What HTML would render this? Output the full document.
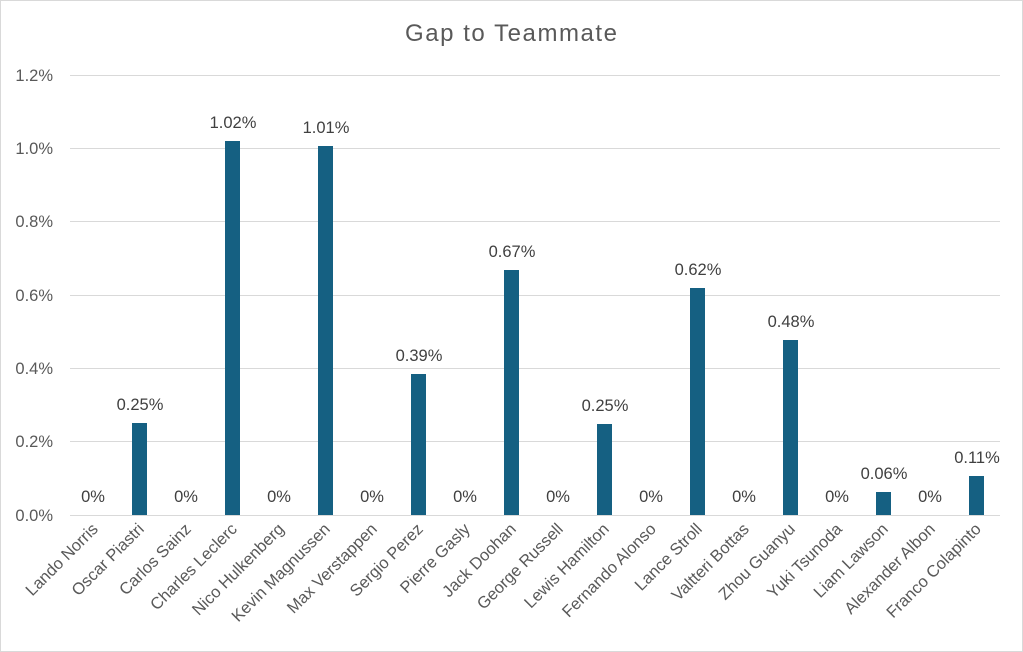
<!DOCTYPE html>
<html><head><meta charset="utf-8"><style>
body{margin:0;background:#fff}
svg{display:block;font-family:"Liberation Sans",Arial,sans-serif}
</style></head><body>
<svg width="1023" height="652" viewBox="0 0 1023 652" xmlns="http://www.w3.org/2000/svg">
<rect x="0.5" y="0.5" width="1022" height="651" fill="#fff" stroke="#d9d9d9"/>
<text x="511" y="41" text-anchor="middle" font-size="24" textLength="212" fill="#595959">Gap to Teammate</text>
<g stroke="#d9d9d9" stroke-width="1">
<line x1="70" x2="1000" y1="75.5" y2="75.5"/>
<line x1="70" x2="1000" y1="148.5" y2="148.5"/>
<line x1="70" x2="1000" y1="221.5" y2="221.5"/>
<line x1="70" x2="1000" y1="295.5" y2="295.5"/>
<line x1="70" x2="1000" y1="368.5" y2="368.5"/>
<line x1="70" x2="1000" y1="441.5" y2="441.5"/>
<line x1="70" x2="1000" y1="515.5" y2="515.5"/>
</g>
<g font-size="16.5" fill="#595959" text-anchor="end">
<text x="53" y="81">1.2%</text><text x="53" y="154">1.0%</text><text x="53" y="227">0.8%</text>
<text x="53" y="301">0.6%</text><text x="53" y="374">0.4%</text><text x="53" y="447">0.2%</text><text x="53" y="521">0.0%</text>
</g>
<g fill="#156082">
<rect x="132" y="423" width="15" height="92"/>
<rect x="225" y="141" width="15" height="374"/>
<rect x="318" y="146" width="15" height="369"/>
<rect x="411" y="374" width="15" height="141"/>
<rect x="504" y="270" width="15" height="245"/>
<rect x="597" y="424" width="15" height="91"/>
<rect x="690" y="288" width="15" height="227"/>
<rect x="783" y="340" width="15" height="175"/>
<rect x="876" y="492" width="15" height="23"/>
<rect x="969" y="476" width="15" height="39"/>
</g>
<g font-size="16.5" fill="#404040" text-anchor="middle">
<text x="93" y="502">0%</text><text x="140" y="410">0.25%</text><text x="186" y="502">0%</text>
<text x="233" y="128">1.02%</text><text x="279" y="502">0%</text><text x="326" y="133">1.01%</text>
<text x="372" y="502">0%</text><text x="419" y="361">0.39%</text><text x="465" y="502">0%</text>
<text x="512" y="257">0.67%</text><text x="558" y="502">0%</text><text x="605" y="411">0.25%</text>
<text x="651" y="502">0%</text><text x="698" y="275">0.62%</text><text x="744" y="502">0%</text>
<text x="791" y="327">0.48%</text><text x="837" y="502">0%</text><text x="884" y="479">0.06%</text>
<text x="930" y="502">0%</text><text x="977" y="463">0.11%</text>
</g>
<g font-size="16.5" fill="#595959" text-anchor="end">
<text transform="translate(99,530) rotate(-45)">Lando Norris</text>
<text transform="translate(145,530) rotate(-45)">Oscar Piastri</text>
<text transform="translate(192,530) rotate(-45)">Carlos Sainz</text>
<text transform="translate(238,530) rotate(-45)">Charles Leclerc</text>
<text transform="translate(285,530) rotate(-45)">Nico Hulkenberg</text>
<text transform="translate(331,530) rotate(-45)">Kevin Magnussen</text>
<text transform="translate(378,530) rotate(-45)">Max Verstappen</text>
<text transform="translate(424,530) rotate(-45)">Sergio Perez</text>
<text transform="translate(471,530) rotate(-45)">Pierre Gasly</text>
<text transform="translate(517,530) rotate(-45)">Jack Doohan</text>
<text transform="translate(564,530) rotate(-45)">George Russell</text>
<text transform="translate(610,530) rotate(-45)">Lewis Hamilton</text>
<text transform="translate(657,530) rotate(-45)">Fernando Alonso</text>
<text transform="translate(703,530) rotate(-45)">Lance Stroll</text>
<text transform="translate(750,530) rotate(-45)">Valtteri Bottas</text>
<text transform="translate(796,530) rotate(-45)">Zhou Guanyu</text>
<text transform="translate(843,530) rotate(-45)">Yuki Tsunoda</text>
<text transform="translate(889,530) rotate(-45)">Liam Lawson</text>
<text transform="translate(936,530) rotate(-45)">Alexander Albon</text>
<text transform="translate(982,530) rotate(-45)">Franco Colapinto</text>
</g>
</svg>
</body></html>
